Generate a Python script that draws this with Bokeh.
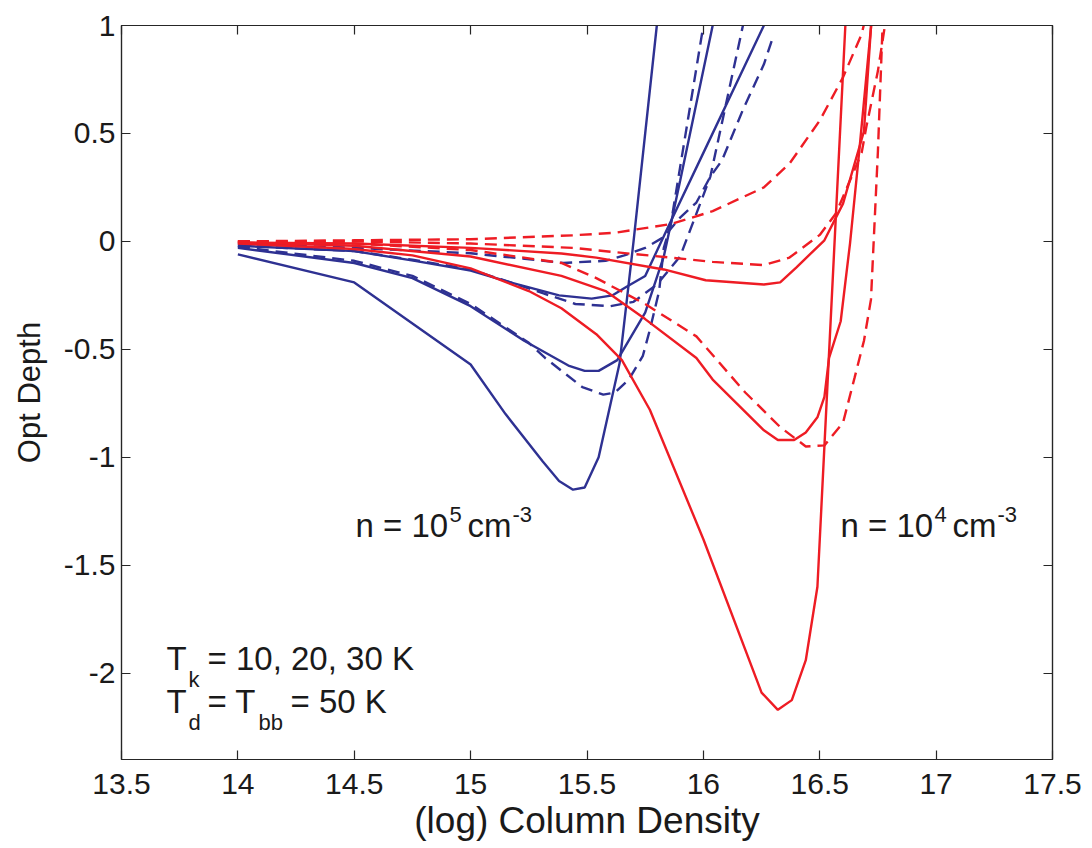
from bokeh.plotting import figure
from bokeh.models import Range1d, LinearAxis, FixedTicker, CustomJSTickFormatter, Label
from bokeh.embed import file_html
from bokeh.resources import INLINE

# ---------------- data ----------------
x_ticks = [13.5, 14, 14.5, 15, 15.5, 16, 16.5, 17, 17.5]
y_ticks = [-2, -1.5, -1, -0.5, 0, 0.5, 1]

# n = 1e5 cm^-3 (blue), solid
b1_x = [14.0, 14.5, 15.0, 15.15, 15.31, 15.38, 15.44, 15.49, 15.55, 15.64, 15.70, 15.80, 15.85]
b1_y = [-0.06, -0.19, -0.57, -0.80, -1.02, -1.11, -1.15, -1.14, -1.00, -0.565, 0.0, 1.0, 1.5]
b2_x = [14.0, 14.5, 14.75, 15.0, 15.23, 15.42, 15.49, 15.55, 15.63, 15.75, 15.83, 15.90, 16.04, 16.10]
b2_y = [-0.03, -0.10, -0.17, -0.30, -0.46, -0.575, -0.60, -0.60, -0.55, -0.33, -0.07, 0.28, 1.0, 1.3]
b3_x = [14.0, 14.5, 14.76, 15.0, 15.17, 15.38, 15.52, 15.61, 15.67, 15.75, 15.85, 16.0, 16.26, 16.35]
b3_y = [-0.02, -0.045, -0.09, -0.135, -0.19, -0.25, -0.265, -0.25, -0.21, -0.16, 0.07, 0.41, 1.0, 1.2]
# n = 1e5 cm^-3 (blue), dashed
d1_x = [14.0, 14.5, 14.75, 15.0, 15.25, 15.32, 15.48, 15.57, 15.62, 15.68, 15.74, 15.77, 15.81, 15.83, 15.86, 16.0, 16.05]
d1_y = [-0.025, -0.09, -0.16, -0.29, -0.47, -0.54, -0.675, -0.71, -0.70, -0.64, -0.53, -0.41, -0.23, -0.03, 0.08, 1.0, 1.3]
d2_x = [14.0, 14.5, 14.75, 15.0, 15.2, 15.31, 15.45, 15.6, 15.70, 15.80, 15.90, 15.96, 16.03, 16.17, 16.22]
d2_y = [-0.02, -0.045, -0.085, -0.13, -0.2, -0.24, -0.29, -0.30, -0.28, -0.2, -0.07, 0.1, 0.3, 1.0, 1.25]
d3_x = [14.0, 14.5, 15.0, 15.4, 15.58, 15.66, 15.75, 15.83, 15.90, 15.97, 16.03, 16.08, 16.17, 16.26, 16.30]
d3_y = [-0.01, -0.03, -0.055, -0.10, -0.09, -0.065, -0.03, 0.02, 0.11, 0.18, 0.30, 0.375, 0.61, 0.82, 0.95]

# n = 1e4 cm^-3 (red), solid
r1_x = [14.0, 14.5, 14.75, 15.0, 15.25, 15.39, 15.54, 15.65, 15.77, 16.0, 16.25, 16.32, 16.38, 16.44, 16.49, 16.61, 16.64]
r1_y = [-0.01, -0.035, -0.065, -0.125, -0.23, -0.31, -0.43, -0.55, -0.78, -1.38, -2.09, -2.17, -2.125, -1.94, -1.60, 1.0, 1.65]
r2_x = [14.0, 14.5, 15.0, 15.39, 15.58, 15.75, 15.97, 16.04, 16.26, 16.32, 16.39, 16.44, 16.49, 16.52, 16.54, 16.59, 16.63, 16.67, 16.72, 16.75]
r2_y = [-0.005, -0.02, -0.07, -0.16, -0.23, -0.36, -0.54, -0.64, -0.875, -0.92, -0.92, -0.885, -0.815, -0.72, -0.54, -0.37, -0.01, 0.42, 0.99, 1.5]
r3_x = [14.0, 14.5, 15.0, 15.39, 15.54, 15.83, 16.01, 16.26, 16.33, 16.40, 16.52, 16.60, 16.69, 16.72, 16.75]
r3_y = [-0.005, -0.01, -0.03, -0.056, -0.075, -0.13, -0.18, -0.20, -0.19, -0.12, 0.005, 0.175, 0.51, 0.99, 1.5]
# n = 1e4 cm^-3 (red), dashed
rd1_x = [14.0, 14.5, 15.0, 15.39, 15.54, 15.75, 15.97, 16.18, 16.33, 16.44, 16.52, 16.60, 16.65, 16.69, 16.72, 16.73, 16.75, 16.77]
rd1_y = [0.0, -0.01, -0.04, -0.10, -0.17, -0.29, -0.44, -0.70, -0.86, -0.95, -0.945, -0.84, -0.63, -0.46, -0.27, -0.04, 0.42, 1.0]
rd2_x = [14.0, 14.5, 15.0, 15.44, 15.62, 15.86, 16.04, 16.26, 16.37, 16.50, 16.57, 16.68, 16.70, 16.75, 16.78]
rd2_y = [0.0, 0.0, -0.01, -0.03, -0.05, -0.075, -0.095, -0.11, -0.075, 0.03, 0.13, 0.41, 0.53, 0.79, 1.0]
rd3_x = [14.0, 14.5, 15.0, 15.44, 15.62, 15.86, 16.04, 16.26, 16.37, 16.50, 16.60, 16.68, 16.70]
rd3_y = [0.0, 0.005, 0.01, 0.028, 0.04, 0.08, 0.14, 0.25, 0.36, 0.56, 0.76, 0.96, 1.05]

x_label = "(log) Column Density"
y_label = "Opt Depth"

# ---------------- styling ----------------
BLUE = "#2e3192"
RED = "#ee1c24"
AXC = "#262626"
TXT = "#1a1a1a"
FONT = "Liberation Sans"
DASH = "12 7"
LW = 2.4

p = figure(width=1092, height=848,
           x_range=Range1d(13.5, 17.5), y_range=Range1d(-2.4, 1),
           output_backend="svg", toolbar_location=None,
           min_border_left=121, min_border_right=40,
           min_border_top=25, min_border_bottom=89)
p.background_fill_color = "white"
p.border_fill_color = "white"
p.outline_line_color = AXC
p.outline_line_width = 1.2
p.grid.visible = False

fmt = CustomJSTickFormatter(code="return tick.toString();")
blank = CustomJSTickFormatter(code="return '';")

for ax in [p.xaxis[0], p.yaxis[0]]:
    ax.formatter = fmt
    ax.major_label_text_font = FONT
    ax.major_label_text_font_size = "30px"
    ax.major_label_text_color = TXT
    ax.axis_label_text_font = FONT
    ax.axis_label_text_font_style = "normal"
    ax.axis_label_text_color = TXT
    ax.major_tick_in = 9
    ax.major_tick_out = 0
    ax.minor_tick_line_color = None
    ax.axis_line_color = AXC
    ax.major_tick_line_color = AXC
    ax.axis_line_width = 1.2
    ax.major_tick_line_width = 1.2

p.xaxis[0].ticker = FixedTicker(ticks=x_ticks)
p.yaxis[0].ticker = FixedTicker(ticks=y_ticks)
p.xaxis[0].axis_label = x_label
p.xaxis[0].axis_label_text_font_size = "37px"
p.xaxis[0].major_label_standoff = 14
p.xaxis[0].axis_label_standoff = 3
p.yaxis[0].axis_label = y_label
p.yaxis[0].axis_label_text_font_size = "31px"
p.yaxis[0].major_label_standoff = 6
p.yaxis[0].axis_label_standoff = 14

top_ax = LinearAxis(ticker=FixedTicker(ticks=x_ticks), formatter=blank)
right_ax = LinearAxis(ticker=FixedTicker(ticks=y_ticks), formatter=blank)
for ax in [top_ax, right_ax]:
    ax.major_tick_in = 9
    ax.major_tick_out = 0
    ax.minor_tick_line_color = None
    ax.axis_line_color = AXC
    ax.major_tick_line_color = AXC
    ax.axis_line_width = 1.2
    ax.major_tick_line_width = 1.2
    ax.major_label_text_font_size = "1px"
    ax.major_label_standoff = 0
p.add_layout(top_ax, "above")
p.add_layout(right_ax, "right")

blue_series = [(b1_x, b1_y, "solid"), (b2_x, b2_y, "solid"), (b3_x, b3_y, "solid"),
               (d1_x, d1_y, DASH), (d2_x, d2_y, DASH), (d3_x, d3_y, DASH)]
red_series = [(r1_x, r1_y, "solid"), (r2_x, r2_y, "solid"), (r3_x, r3_y, "solid"),
              (rd1_x, rd1_y, DASH), (rd2_x, rd2_y, DASH), (rd3_x, rd3_y, DASH)]
for xs, ys, dash in blue_series:
    p.line(xs, ys, line_color=BLUE, line_width=LW, line_dash=dash)
for xs, ys, dash in red_series:
    p.line(xs, ys, line_color=RED, line_width=LW, line_dash=dash)


# ---------------- annotations (positions given as canvas pixels) ----------------
def px2x(px):
    return 13.5 + (px - 121) / 232.75


def py2y(py):
    return (240.9 - py) / 215.88


def put(text, px, py, size):
    p.add_layout(Label(x=px2x(px), y=py2y(py - 0.37 * size), text=text, text_font=FONT,
                       text_font_size=f"{size}px", text_color=TXT,
                       text_align="left", text_baseline="alphabetic"))


BIG = 33
SMALL = 22
# n = 10^5 cm^-3
put("n = 10", 355, 537, BIG)
put("5", 449, 522, SMALL)
put("cm", 467, 537, BIG)
put("-3", 512, 522, SMALL)
# n = 10^4 cm^-3
put("n = 10", 840, 537, BIG)
put("4", 934, 522, SMALL)
put("cm", 952, 537, BIG)
put("-3", 997, 522, SMALL)
# T_k = 10, 20, 30 K
put("T", 166, 670, BIG)
put("k", 188, 687, SMALL)
put("= 10, 20, 30 K", 207, 670, BIG)
# T_d = T_bb = 50 K
put("T", 166, 713, BIG)
put("d", 188, 730, SMALL)
put("= T", 207, 713, BIG)
put("bb", 258, 730, SMALL)
put("= 50 K", 290, 713, BIG)

open("out.html", "w").write(file_html(p, INLINE))
